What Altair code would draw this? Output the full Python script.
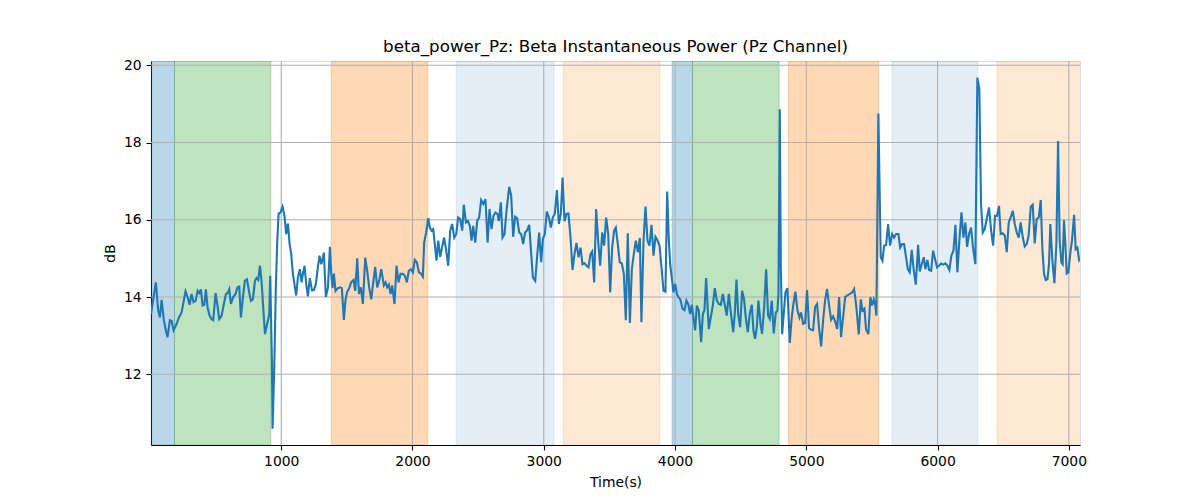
import altair as alt
import pandas as pd

# ---- data ----
times = [8, 45, 63, 76, 89, 106, 119, 134, 152, 165, 180, 203, 221, 241, 271, 287, 302, 317, 332, 348,
         363, 376, 388, 401, 414, 426, 439, 454, 469, 482, 500, 513, 528, 546, 563, 579, 591, 604, 617, 634,
         652, 667, 680, 693, 711, 723, 739, 754, 769, 784, 800, 812, 825, 838, 850, 863, 876,
         899, 909, 916, 929, 934, 947, 959, 970, 980, 995, 1010, 1025, 1038, 1051, 1064, 1076, 1089, 1102,
         1114, 1127, 1142, 1155, 1165, 1178, 1190, 1203, 1218, 1234, 1249, 1264, 1279, 1292, 1305, 1315,
         1325, 1340, 1356, 1371, 1381, 1391, 1401, 1414, 1432, 1449, 1462, 1477, 1490, 1503, 1518, 1533,
         1551, 1564, 1579, 1592, 1607, 1622, 1640, 1655, 1670, 1686, 1701, 1716, 1731, 1746, 1762,
         1782, 1795, 1807, 1820, 1833, 1845, 1863, 1878, 1894, 1909, 1927, 1942, 1957, 1972, 1988, 2003,
         2018, 2033, 2049, 2064, 2079, 2089, 2104, 2120, 2132, 2145, 2158, 2170, 2183, 2196, 2211, 2226,
         2241, 2257, 2272, 2287, 2302, 2318, 2333, 2348, 2363, 2379, 2391, 2407, 2422, 2437, 2450, 2462,
         2478, 2493, 2508, 2523, 2539, 2556, 2572, 2587, 2602, 2617, 2632, 2648, 2658,
         2673, 2686, 2701, 2716, 2737, 2752, 2767, 2782, 2797, 2813, 2828, 2843, 2858, 2874, 2889, 2902,
         2917, 2935, 2950, 2965, 2980, 2993, 3008, 3023, 3039, 3054, 3069, 3084, 3100, 3115, 3130, 3143,
         3158, 3173, 3188, 3204, 3219, 3234, 3249, 3265, 3280, 3295, 3310, 3326, 3341, 3356, 3369, 3384,
         3399, 3414, 3430, 3445, 3460, 3475, 3491, 3506, 3521, 3536, 3549,
         3567, 3579, 3595, 3610, 3625, 3640, 3656, 3671, 3686, 3701, 3717, 3732, 3744, 3760, 3775, 3790,
         3805, 3821, 3836, 3851, 3866, 3882, 3897, 3912, 3927, 3940, 3953, 3963, 3975, 3988, 4001, 4014,
         4026, 4041, 4057, 4072, 4087, 4102, 4115, 4128, 4140, 4153, 4166, 4181, 4199, 4212, 4224, 4237,
         4257, 4272, 4288, 4303, 4318, 4333, 4349, 4364, 4379, 4394, 4410, 4425,
         4443, 4455, 4468, 4481, 4496, 4511, 4526, 4539, 4554, 4569, 4585, 4597, 4610, 4623, 4635, 4651,
         4663, 4679, 4694, 4709, 4722, 4737, 4752, 4768, 4780, 4788, 4798, 4806, 4816, 4828, 4841, 4856,
         4874, 4889, 4902, 4917, 4933, 4948, 4960, 4976, 4991, 5006, 5021, 5037, 5052, 5067, 5082, 5098,
         5113, 5128, 5143, 5158, 5174, 5189, 5204, 5219, 5235, 5250, 5265, 5280, 5296, 5311, 5331,
         5349, 5364, 5379, 5400, 5415, 5428, 5443, 5455, 5473, 5488, 5501, 5514, 5524, 5534, 5549, 5567,
         5580, 5593, 5608, 5623, 5638, 5654, 5669, 5684, 5702, 5715, 5730, 5745, 5760, 5773, 5788, 5803,
         5819, 5834, 5852, 5864, 5879, 5895, 5907, 5923, 5935, 5951, 5966, 5981, 5996, 6011, 6027, 6044,
         6060, 6075, 6090, 6105, 6121, 6136, 6151, 6166, 6182, 6197, 6212, 6225,
         6240, 6255, 6270, 6288, 6303, 6318, 6331, 6344, 6359, 6377, 6392, 6408, 6423, 6438, 6453, 6468,
         6481, 6496, 6512, 6527, 6542, 6557, 6573, 6588, 6603, 6618, 6633, 6649, 6664, 6679, 6694, 6710,
         6725, 6740, 6755, 6771, 6786, 6798, 6811, 6824, 6837, 6849, 6859, 6875, 6890, 6905, 6918, 6930,
         6943, 6953, 6963, 6974, 6984, 6996, 7012, 7024, 7040, 7052, 7065, 7078, 7085]

power_db = [13.56, 14.38, 13.65, 13.47, 13.93, 13.4, 13.17, 12.96, 13.4, 13.38, 13.14, 13.3, 13.47, 13.6, 14.15, 14.0, 13.8, 14.08, 13.87, 13.9,
            14.16, 14.1, 14.2, 13.78, 13.8, 14.2, 13.73, 13.52, 13.43, 13.4, 14.1, 13.82, 13.43, 13.52, 13.82, 14.08, 14.1, 14.2, 13.82, 14.0,
            14.08, 14.25, 14.27, 13.47, 14.08, 14.42, 14.46, 14.16, 13.9, 13.94, 14.42, 14.49, 14.44, 14.81, 14.42, 13.73, 13.04,
            13.4, 13.56, 14.55, 12.35, 10.59, 12.18, 14.25, 15.46, 16.16, 16.19, 16.34, 16.1, 15.63, 15.9, 15.37, 15.11, 14.6, 14.3,
            14.04, 14.51, 14.72, 14.38, 14.6, 14.81, 14.34, 14.02, 14.49, 14.18, 14.18, 14.34, 14.77, 15.07, 14.85, 14.98,
            15.15, 14.0, 14.25, 15.3, 14.6, 14.23, 14.61, 14.16, 14.23, 14.25, 14.23, 13.41, 13.93, 14.14, 14.23, 14.38,
            14.44, 14.16, 15.0, 14.08, 14.25, 13.82, 15.02, 14.68, 14.25, 13.94, 14.38, 14.78, 14.25, 14.42, 14.72,
            14.3, 14.38, 14.25, 14.32, 14.08, 14.3, 13.82, 14.81, 14.38, 14.6, 14.6, 14.55, 14.38, 14.68, 14.72, 14.64,
            14.96, 14.9, 14.64, 14.61, 14.53, 15.41, 15.67, 16.04, 15.8, 15.72, 15.76, 15.37, 14.94, 15.46, 15.04, 15.3,
            15.54, 15.2, 14.81, 15.72, 15.89, 15.54, 15.63, 16.06, 16.02, 15.72, 16.39, 15.93, 15.97, 15.84, 15.46, 15.84,
            15.41, 15.97, 16.06, 16.51, 16.41, 16.53, 15.41, 16.28, 15.76, 16.1, 16.19, 16.15, 15.97,
            16.45, 15.54, 15.63, 16.23, 16.85, 16.62, 15.56, 16.08, 16.04, 15.67, 15.63, 15.37, 15.67, 15.73, 15.87, 15.24,
            14.51, 14.42, 15.07, 15.67, 14.9, 15.5, 15.63, 16.21, 16.06, 15.8, 16.06, 16.15, 16.77, 15.89, 16.15, 17.09,
            15.96, 16.15, 16.16, 15.54, 14.7, 15.11, 15.4, 15.03, 15.28, 14.85, 14.88, 14.81, 14.77, 15.11, 15.18, 14.38,
            16.28, 15.46, 14.81, 15.67, 15.33, 16.06, 15.63, 14.12, 15.28, 15.72, 15.8,
            15.28, 14.9, 14.87, 14.6, 13.4, 15.65, 13.33, 14.72, 15.11, 15.46, 15.16, 15.53, 13.35, 15.46, 16.34, 15.46,
            15.33, 15.87, 15.07, 15.56, 15.47, 15.33, 14.77, 14.16, 14.14, 16.73, 15.46, 14.85, 14.51, 14.12, 14.34, 14.08,
            14.0, 13.93, 13.7, 13.66, 13.91, 13.8, 13.56, 13.8, 13.47, 13.14, 13.78, 13.65, 12.83, 13.56, 13.66, 14.49,
            13.17, 13.47, 13.78, 14.23, 13.91, 13.82, 13.8, 14.08, 13.8, 13.52, 14.08, 13.6,
            13.09, 13.56, 14.45, 13.56, 13.22, 14.16, 13.94, 13.47, 13.09, 13.56, 13.8, 13.14, 12.92, 13.22, 13.91, 13.31,
            13.05, 13.74, 14.72, 13.52, 13.43, 13.91, 13.06, 13.6, 13.65, 14.08, 18.86, 14.77, 13.04, 13.56, 14.12, 14.23,
            12.81, 13.47, 13.82, 14.14, 13.65, 13.47, 13.6, 13.31, 13.33, 14.18, 13.2, 13.15, 13.14, 13.74, 13.82, 13.17,
            12.72, 13.4, 13.91, 14.21, 13.78, 13.41, 13.5, 13.38, 13.17, 14.0, 12.96, 13.46, 14.0, 14.04, 14.08,
            14.12, 14.21, 13.82, 13.03, 13.94, 13.65, 13.7, 13.17, 13.04, 14.0, 13.78, 13.94, 13.82, 13.52, 18.75, 15.03,
            14.94, 15.33, 15.35, 15.89, 15.33, 15.63, 15.54, 15.63, 15.63, 15.28, 15.37, 15.37, 15.03, 14.72, 14.64, 15.22,
            14.68, 14.32, 15.35, 14.66, 14.85, 15.03, 14.72, 14.96, 14.7, 14.68, 15.2, 14.98, 14.77, 14.81, 14.87, 14.84,
            14.87, 14.81, 14.7, 15.07, 15.2, 15.87, 14.64, 15.46, 16.19, 15.54, 15.93, 15.3,
            15.63, 15.8, 15.28, 14.85, 19.68, 19.4, 16.4, 15.67, 15.76, 16.06, 16.32, 15.72, 15.33, 16.1, 16.1, 16.36,
            15.63, 15.65, 15.59, 15.16, 15.93, 16.06, 16.23, 15.89, 15.67, 15.54, 15.93, 15.54, 15.31, 15.37, 15.59, 16.34,
            16.39, 15.39, 16.02, 16.06, 16.51, 15.28, 14.6, 14.44, 14.46, 14.85, 15.89, 14.94, 14.36, 15.37, 18.04, 15.46,
            14.9, 14.85, 15.99, 15.33, 14.61, 14.64, 15.16, 15.46, 16.13, 15.24, 15.28, 14.96, 15.0]

span_start = [0, 187, 1381, 2333, 3148, 3978, 4133, 4864, 5653, 6453]
span_end = [187, 921, 2117, 3077, 3884, 4133, 4793, 5552, 6306, 7100]
span_color = ["#1f77b4", "#2ca02c", "#ff7f0e", "#1f77b4", "#ff7f0e",
              "#1f77b4", "#2ca02c", "#ff7f0e", "#1f77b4", "#ff7f0e"]
span_alpha = [0.3, 0.3, 0.3, 0.12, 0.18, 0.3, 0.3, 0.3, 0.12, 0.18]

x_ticks = [1000, 2000, 3000, 4000, 5000, 6000, 7000]
y_ticks = [12, 14, 16, 18, 20]

x_domain = [8, 7085]
y_domain = [10.17, 20.11]

FONT = "DejaVu Sans"

line_df = pd.DataFrame({"t": times, "v": power_db})
span_df = pd.DataFrame({"start": span_start, "end": span_end,
                        "color": span_color, "alpha": span_alpha})
xgrid_df = pd.DataFrame({"tick": x_ticks})
ygrid_df = pd.DataFrame({"tick": y_ticks})

xscale = alt.Scale(domain=x_domain, nice=False, zero=False)
yscale = alt.Scale(domain=y_domain, nice=False, zero=False)

x_axis = alt.Axis(values=x_ticks, format="d", grid=False, title="Time(s)",
                  labelFont=FONT, labelFontSize=13.9, labelColor="black",
                  titleFont=FONT, titleFontSize=13.9, titleFontWeight="normal", titleColor="black",
                  tickColor="black", tickSize=4.9, tickWidth=1.1, labelPadding=4.5,
                  domainColor="black", domainWidth=1.1, titlePadding=7, labelFlush=False)
y_axis = alt.Axis(values=y_ticks, format="d", grid=False, title="dB",
                  labelFont=FONT, labelFontSize=13.9, labelColor="black",
                  titleFont=FONT, titleFontSize=13.9, titleFontWeight="normal", titleColor="black",
                  tickColor="black", tickSize=4.9, tickWidth=1.1, labelPadding=4.9,
                  domainColor="black", domainWidth=1.1, titlePadding=6, labelFlush=False)

spans = alt.Chart(span_df).mark_rect(clip=True, strokeWidth=1).encode(
    x=alt.X("start:Q", scale=xscale, title="Time(s)"),
    x2="end:Q",
    fill=alt.Color("color:N", scale=None),
    stroke=alt.Color("color:N", scale=None),
    fillOpacity=alt.Opacity("alpha:Q", scale=None),
    strokeOpacity=alt.Opacity("alpha:Q", scale=None),
)

xgrid = alt.Chart(xgrid_df).mark_rule(color="#b0b0b0", strokeWidth=1.1).encode(
    x=alt.X("tick:Q", scale=xscale, title="Time(s)"),
)
ygrid = alt.Chart(ygrid_df).mark_rule(color="#b0b0b0", strokeWidth=1.1).encode(
    y=alt.Y("tick:Q", scale=yscale, title="dB"),
)

line = alt.Chart(line_df).mark_line(color="#1f77b4", strokeWidth=2.1, clip=True).encode(
    x=alt.X("t:Q", scale=xscale, axis=x_axis),
    y=alt.Y("v:Q", scale=yscale, axis=y_axis),
)

chart = alt.layer(spans, xgrid, ygrid, line).properties(
    width=929,
    height=384,
    autosize=alt.AutoSizeParams(type="none"),
    padding={"left": 143, "top": 53, "right": 112, "bottom": 47},
    title=alt.TitleParams("beta_power_Pz: Beta Instantaneous Power (Pz Channel)",
                          font=FONT, fontSize=16.7, fontWeight="normal", color="black",
                          anchor="middle", baseline="alphabetic", offset=-10),
).configure_view(stroke="black", strokeWidth=1.1).configure(background="white")

chart.save("out.html", embed_options={"renderer": "svg", "actions": False})
